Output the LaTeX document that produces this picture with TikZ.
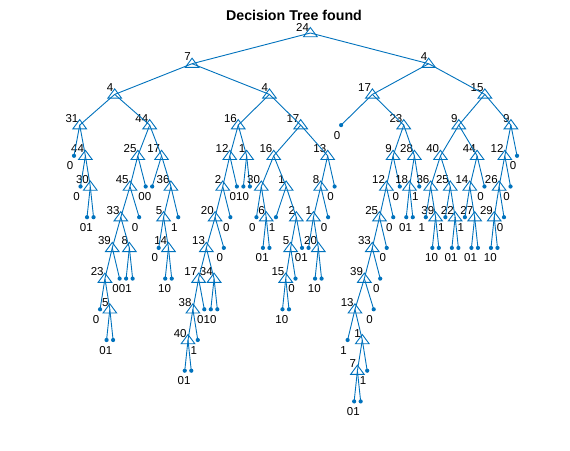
\documentclass[tikz,border=0pt]{standalone}
\usepackage{fontspec}
\setmainfont{Liberation Sans}
\usetikzlibrary{calc}
\definecolor{mblue}{HTML}{0072BD}
\tikzset{
  edge/.style={draw=mblue, line width=0.9pt},
  tri/.style={draw=mblue, line width=0.9pt, line join=miter},
  dotc/.style={fill=mblue},
  nlab/.style={anchor=base east, inner sep=0pt, font=\fontsize{11.5}{12}\selectfont},
  llab/.style={anchor=base east, inner sep=0pt, font=\fontsize{11.5}{12}\selectfont},
  ttl/.style={anchor=base, inner sep=0pt, font=\fontsize{14.2}{16}\selectfont\bfseries}
}
% leaf: name, index, level, label
\newcommand\leaf[4]{%
  \coordinate (#1) at ({74+(#2-1)*6.515},{33+30.7*#3});
  \fill[dotc] (#1) circle[radius=2.1pt];
  \node[llab] (#1t) at ($(#1)+(-0.6,14)$) {#4};
}
% decision node: [label raise], name, child1, child2, label
\newcommand\dnode[5][-3]{%
  \coordinate (#2) at ($(#3)!0.5!(#4)+(0,-30.7)$);
  \draw[edge] (#2) -- (#3);
  \draw[edge] (#2) -- (#4);
  \draw[tri] ($(#2)+(0,-5.5)$) -- ($(#2)+(6.8,3.7)$) -- ($(#2)+(-6.8,3.7)$) -- cycle;
  \node[nlab] (#2t) at ($(#2)+(-1.2,#1)$) {#5};
}
\begin{document}
\begin{tikzpicture}[x=1pt,y=-1pt]
\fill[white] (0,0) rectangle (570,450);
\useasboundingbox (0,0) rectangle (570,450);
\node[ttl] (title) at (294,20.2) {Decision Tree found};
% leaves
\leaf{lf1}{1}{4}{0}
\leaf{lf2}{2}{5}{0}
\leaf{lf3}{3}{6}{0}
\leaf{lf4}{4}{6}{1}
\leaf{lf5}{5}{9}{0}
\leaf{lf6}{6}{10}{0}
\leaf{lf7}{7}{10}{1}
\leaf{lf8}{8}{8}{0}
\leaf{lf9}{9}{8}{0}
\leaf{lf10}{10}{8}{1}
\leaf{lf11}{11}{6}{0}
\leaf{lf12}{12}{5}{0}
\leaf{lf13}{13}{5}{0}
\leaf{lf14}{14}{7}{0}
\leaf{lf15}{15}{8}{1}
\leaf{lf16}{16}{8}{0}
\leaf{lf17}{17}{6}{1}
\leaf{lf18}{18}{11}{0}
\leaf{lf19}{19}{11}{1}
\leaf{lf20}{20}{10}{1}
\leaf{lf21}{21}{9}{0}
\leaf{lf22}{22}{9}{1}
\leaf{lf23}{23}{9}{0}
\leaf{lf24}{24}{7}{0}
\leaf{lf25}{25}{6}{0}
\leaf{lf26}{26}{5}{0}
\leaf{lf27}{27}{5}{1}
\leaf{lf28}{28}{5}{0}
\leaf{lf29}{29}{6}{0}
\leaf{lf30}{30}{7}{0}
\leaf{lf31}{31}{7}{1}
\leaf{lf32}{32}{6}{1}
\leaf{lf33}{33}{9}{1}
\leaf{lf34}{34}{9}{0}
\leaf{lf35}{35}{8}{0}
\leaf{lf36}{36}{7}{0}
\leaf{lf37}{37}{7}{1}
\leaf{lf38}{38}{8}{1}
\leaf{lf39}{39}{8}{0}
\leaf{lf40}{40}{6}{0}
\leaf{lf41}{41}{5}{0}
\leaf{lf42}{42}{3}{0}
\leaf{lf43}{43}{10}{1}
\leaf{lf44}{44}{12}{0}
\leaf{lf45}{45}{12}{1}
\leaf{lf46}{46}{11}{1}
\leaf{lf47}{47}{9}{0}
\leaf{lf48}{48}{8}{0}
\leaf{lf49}{49}{7}{0}
\leaf{lf50}{50}{6}{0}
\leaf{lf51}{51}{5}{0}
\leaf{lf52}{52}{6}{0}
\leaf{lf53}{53}{6}{1}
\leaf{lf54}{54}{5}{1}
\leaf{lf55}{55}{6}{1}
\leaf{lf56}{56}{7}{1}
\leaf{lf57}{57}{7}{0}
\leaf{lf58}{58}{6}{1}
\leaf{lf59}{59}{7}{0}
\leaf{lf60}{60}{7}{1}
\leaf{lf61}{61}{6}{1}
\leaf{lf62}{62}{7}{0}
\leaf{lf63}{63}{7}{1}
\leaf{lf64}{64}{5}{0}
\leaf{lf65}{65}{7}{1}
\leaf{lf66}{66}{7}{0}
\leaf{lf67}{67}{6}{0}
\leaf{lf68}{68}{5}{0}
\leaf{lf69}{69}{4}{0}
% left-left subtree
\dnode{n30}{lf3}{lf4}{30}
\dnode{n44a}{lf2}{n30}{44}
\dnode{n31}{lf1}{n44a}{31}
\dnode{n5a}{lf6}{lf7}{5}
\dnode{n23}{lf5}{n5a}{23}
\dnode{n39a}{n23}{lf8}{39}
\dnode{n8a}{lf9}{lf10}{8}
\dnode{n33a}{n39a}{n8a}{33}
\dnode{n45}{n33a}{lf11}{45}
\dnode{n25a}{n45}{lf12}{25}
\dnode{n14a}{lf15}{lf16}{14}
\dnode{n5b}{lf14}{n14a}{5}
\dnode{n36a}{n5b}{lf17}{36}
\dnode{n17a}{lf13}{n36a}{17}
\dnode{n44b}{n25a}{n17a}{44}
\dnode{n4a}{n31}{n44b}{4}
% left-right subtree
\dnode{n40a}{lf18}{lf19}{40}
\dnode{n38}{n40a}{lf20}{38}
\dnode{n17b}{n38}{lf21}{17}
\dnode{n34}{lf22}{lf23}{34}
\dnode{n13a}{n17b}{n34}{13}
\dnode{n20a}{n13a}{lf24}{20}
\dnode{n2a}{n20a}{lf25}{2}
\dnode{n12a}{n2a}{lf26}{12}
\dnode{n1a}{lf27}{lf28}{1}
\dnode{n16a}{n12a}{n1a}{16}
\dnode{n6}{lf30}{lf31}{6}
\dnode{n30b}{lf29}{n6}{30}
\dnode{n15a}{lf33}{lf34}{15}
\dnode{n5c}{n15a}{lf35}{5}
\dnode{n2b}{n5c}{lf36}{2}
\dnode{n1b}{lf32}{n2b}{1}
\dnode{n16b}{n30b}{n1b}{16}
\dnode{n20b}{lf38}{lf39}{20}
\dnode{n1c}{lf37}{n20b}{1}
\dnode{n8b}{n1c}{lf40}{8}
\dnode{n13b}{n8b}{lf41}{13}
\dnode{n17c}{n16b}{n13b}{17}
\dnode{n4b}{n16a}{n17c}{4}
\dnode{n7}{n4a}{n4b}{7}
% right subtree
\dnode{n7b}{lf44}{lf45}{7}
\dnode{n1d}{n7b}{lf46}{1}
\dnode{n13c}{lf43}{n1d}{13}
\dnode{n39b}{n13c}{lf47}{39}
\dnode{n33b}{n39b}{lf48}{33}
\dnode{n25b}{n33b}{lf49}{25}
\dnode{n12b}{n25b}{lf50}{12}
\dnode{n9a}{n12b}{lf51}{9}
\dnode{n18}{lf52}{lf53}{18}
\dnode{n28}{n18}{lf54}{28}
\dnode{n23b}{n9a}{n28}{23}
\dnode{n17d}{lf42}{n23b}{17}
\dnode{n39c}{lf56}{lf57}{39}
\dnode{n36b}{lf55}{n39c}{36}
\dnode{n22}{lf59}{lf60}{22}
\dnode{n25c}{lf58}{n22}{25}
\dnode{n40b}{n36b}{n25c}{40}
\dnode{n27}{lf62}{lf63}{27}
\dnode{n14b}{lf61}{n27}{14}
\dnode{n44c}{n14b}{lf64}{44}
\dnode{n9b}{n40b}{n44c}{9}
\dnode{n29}{lf65}{lf66}{29}
\dnode{n26}{n29}{lf67}{26}
\dnode{n12c}{n26}{lf68}{12}
\dnode{n9c}{n12c}{lf69}{9}
\dnode{n15b}{n9b}{n9c}{15}
\dnode{n4c}{n17d}{n15b}{4}
\dnode[-1.2]{root}{n7}{n4c}{24}
\end{tikzpicture}
\end{document}
